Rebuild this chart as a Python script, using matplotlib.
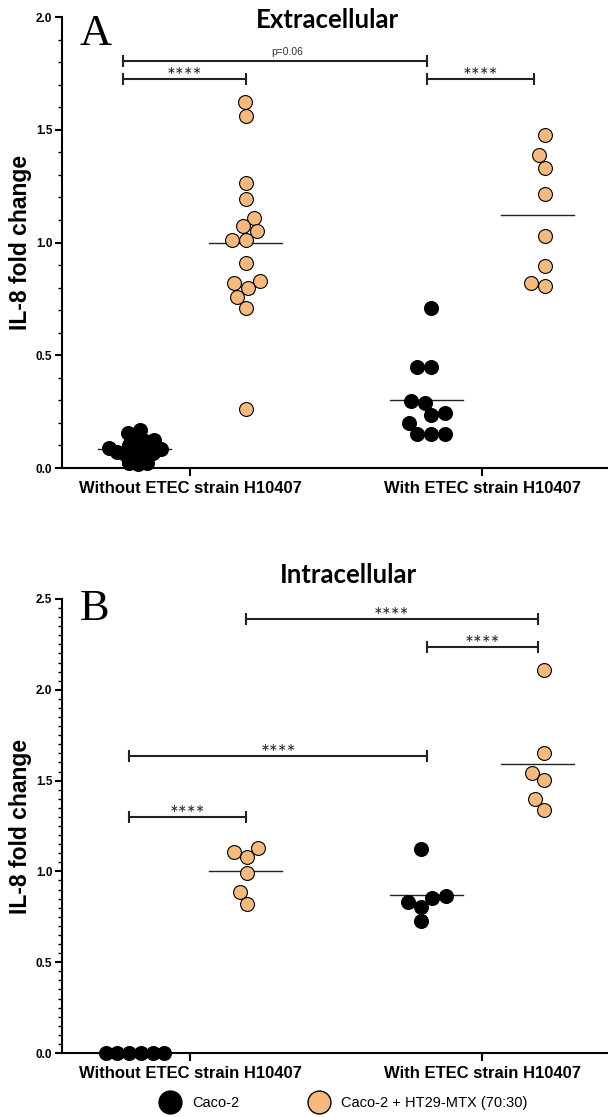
import numpy as np
import matplotlib
matplotlib.use('Agg')
import matplotlib.pyplot as plt
from matplotlib.lines import Line2D
from matplotlib.ticker import MultipleLocator

# categories / groups
categories = ['Without ETEC strain H10407', 'With ETEC strain H10407']
cell_lines = ['Caco-2', 'Caco-2 + HT29-MTX (70:30)']

# Extracellular IL-8 fold change
extra_caco_without = [0.168, 0.155, 0.133, 0.124, 0.120, 0.10, 0.095, 0.088, 0.085,
                      0.07, 0.066, 0.062, 0.058, 0.055, 0.022, 0.020, 0.018]
extra_mix_without = [1.624, 1.562, 1.266, 1.195, 1.11, 1.071, 1.049, 1.01, 1.01,
                     0.91, 0.83, 0.82, 0.80, 0.76, 0.71, 0.26]
extra_caco_with = [0.71, 0.45, 0.45, 0.296, 0.29, 0.245, 0.235, 0.20, 0.15, 0.15, 0.15]
extra_mix_with = [1.478, 1.389, 1.332, 1.217, 1.031, 0.894, 0.819, 0.806]

# Intracellular IL-8 fold change
intra_caco_without = [0.0, 0.0, 0.0, 0.0, 0.0, 0.0]
intra_mix_without = [1.129, 1.107, 1.079, 0.991, 0.887, 0.82]
intra_caco_with = [1.124, 0.865, 0.854, 0.832, 0.805, 0.727]
intra_mix_with = [2.109, 1.652, 1.542, 1.503, 1.399, 1.338]

# significance brackets: (x1, x2, height, label)
extra_sig = [(-0.23, 0.81, 1.805, 'p=0.06'),
             (-0.23, 0.19, 1.726, '****'),
             (0.81, 1.175, 1.726, '****')]
intra_sig = [(0.19, 1.19, 2.39, '****'),
             (0.81, 1.19, 2.236, '****'),
             (-0.21, 0.81, 1.635, '****'),
             (-0.21, 0.19, 1.30, '****')]

orange = '#F4B97F'
W, H = 608, 1117
XLIM = (-0.44, 1.43)
OFF = 0.19


def swarm(vals, d, px_x, px_y):
    # simple beeswarm in pixel space, returns x offsets in data units
    vals = np.asarray(vals, float)
    xs = np.zeros(len(vals))
    placed = []
    for i in np.argsort(vals):
        y = vals[i] * px_y
        cands = [0.0]
        for px, py in placed:
            dy = y - py
            if abs(dy) < d:
                dx = np.sqrt(d * d - dy * dy)
                cands += [px - dx, px + dx]
        cands.sort(key=lambda c: (abs(c), c))
        for c in cands:
            if all((c - px) ** 2 + (y - py) ** 2 >= d * d - 1e-6 for px, py in placed):
                break
        placed.append((c, y))
        xs[i] = c
    xs -= (xs.max() + xs.min()) / 2
    return xs / px_x


def panel(ax, groups, spacing, ymax, minor, sig):
    ax_w = ax.get_position().width * W
    ax_h = ax.get_position().height * H
    px_x = ax_w / (XLIM[1] - XLIM[0])
    px_y = ax_h / ymax
    for (vals, pos, color, d) in zip(groups, [-OFF, OFF, 1 - OFF, 1 + OFF],
                                     ['black', orange, 'black', orange], spacing):
        xo = swarm(vals, d, px_x, px_y)
        ax.scatter(pos + xo, vals, s=100, facecolor=color, edgecolor='black',
                   linewidth=0.8, zorder=3, clip_on=False)
        m = np.mean(vals)
        ax.plot([pos - 0.125, pos + 0.125], [m, m], color='#222222', lw=1.0, zorder=2)
    for x1, x2, yv, lab in sig:
        ax.plot([x1, x2], [yv, yv], color='#222222', lw=1.5, marker='|', ms=8,
                mew=1.5, clip_on=False)
        if lab.startswith('p'):
            ax.annotate(lab, ((x1 + x2) / 2 + 0.04, yv), xytext=(0, 3), textcoords='offset points',
                        ha='center', va='bottom', fontsize=7.5, family='Liberation Sans',
                        color='#333333')
        else:
            ax.annotate(lab, ((x1 + x2) / 2, yv), xytext=(0, -3), textcoords='offset points',
                        ha='center', va='baseline', fontsize=15, family='Lato', color='#222222')
    ax.set_xlim(*XLIM)
    ax.set_ylim(0, ymax)
    ax.yaxis.set_major_locator(MultipleLocator(0.5))
    ax.yaxis.set_minor_locator(MultipleLocator(minor))
    ax.set_xticks([0, 1])
    ax.set_xticklabels(categories, fontsize=12, fontweight='bold', family='Liberation Sans')
    for t in ax.get_yticklabels():
        t.set_fontsize(8.5)
        t.set_fontweight('bold')
        t.set_family('Liberation Sans')
    ax.yaxis.set_major_formatter(matplotlib.ticker.FormatStrFormatter('%.1f'))
    ax.tick_params(axis='y', which='major', length=5, width=1.5, pad=2)
    ax.tick_params(axis='y', which='minor', length=3, width=1.0)
    ax.tick_params(axis='x', length=6, width=1.5, pad=3)
    for s in ['top', 'right']:
        ax.spines[s].set_visible(False)
    for s in ['left', 'bottom']:
        ax.spines[s].set_linewidth(1.5)
    ax.set_ylabel('IL-8 fold change', fontsize=16.5, fontweight='bold', family='Liberation Sans')
    ax.yaxis.set_label_coords((32 - 62) / 546, 0.5)


fig = plt.figure(figsize=(W / 100, H / 100), dpi=100)
axA = fig.add_axes([62 / W, 1 - 468 / H, 546 / W, 451 / H])
axB = fig.add_axes([62 / W, 1 - 1053 / H, 546 / W, 454 / H])

panel(axA, [extra_caco_without, extra_mix_without, extra_caco_with, extra_mix_with],
      [9, 14, 14, 14], 2.0, 0.1, extra_sig)
panel(axB, [intra_caco_without, intra_mix_without, intra_caco_with, intra_mix_with],
      [11.7, 14, 14, 14], 2.5, 0.05, intra_sig)

fig.text(327 / W, 1 - 28 / H, 'Extracellular', ha='center', va='baseline',
         fontsize=18.5, fontweight='bold', family='Lato')
fig.text(348 / W, 1 - 583 / H, 'Intracellular', ha='center', va='baseline',
         fontsize=18.5, fontweight='bold', family='Lato')
fig.text(80 / W, 1 - 45 / H, 'A', ha='left', va='baseline', fontsize=32,
         family='Liberation Serif')
fig.text(80 / W, 1 - 620 / H, 'B', ha='left', va='baseline', fontsize=32,
         family='Liberation Serif')

handles = [Line2D([], [], ls='', marker='o', ms=16.5, mfc='black', mec='black', mew=1),
           Line2D([], [], ls='', marker='o', ms=16.5, mfc=orange, mec='black', mew=1)]
fig.legend(handles, cell_lines, loc='center', bbox_to_anchor=(343 / W, 1 - 1103 / H),
           ncol=2, frameon=False, handlelength=1.6, handletextpad=0.7, columnspacing=4.7,
           prop={'family': 'Liberation Sans', 'size': 10.5})

fig.savefig('out.png', dpi=100)
